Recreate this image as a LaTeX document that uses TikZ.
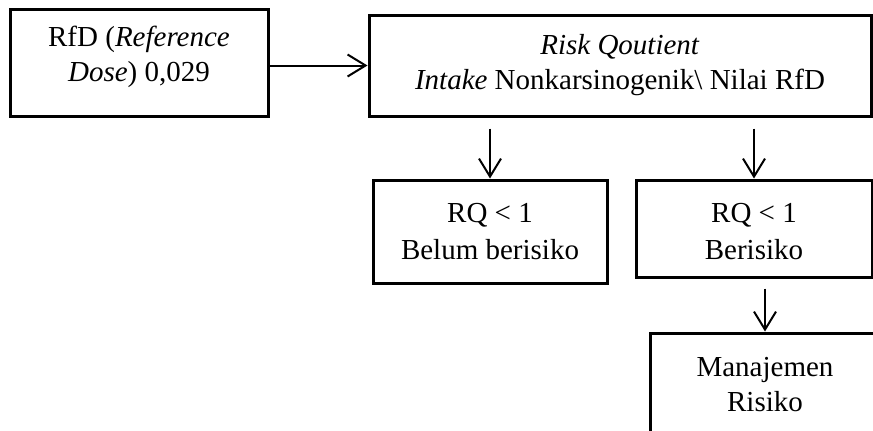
\documentclass[tikz,border=0pt]{standalone}
\usepackage{fontspec}
\setmainfont{Liberation Serif}
\usetikzlibrary{arrows.meta}
\tikzset{
  kotak/.style={draw,line width=1.5pt,align=center,inner sep=0pt,
    font=\fontsize{14.5}{17.5}\selectfont},
  panah/.style={line width=1pt,-{Straight Barb[length=9pt,width=11pt]}}
}
\begin{document}
\begin{tikzpicture}[x=0.5pt,y=-0.5pt]
   \clip (0,0) rectangle (873,430);
   \node[kotak,minimum width=129pt,minimum height=53.5pt] (rfd) at (139,62.5)
     {RfD (\textit{Reference}\\\textit{Dose}) 0,029\rule[-9.2pt]{0pt}{1pt}};
   \node[kotak,minimum width=251pt,minimum height=50.5pt] (rq) at (620,65.5)
     {\textit{Risk Qoutient}\\\textit{Intake} Nonkarsinogenik\textbackslash\ Nilai RfD};
   \node[kotak,minimum width=117pt,minimum height=51.5pt] (aman) at (490,231.5)
     {RQ < 1\\[1pt]Belum berisiko};
   \node[kotak,minimum width=118pt,minimum height=48.5pt] (bahaya) at (754,228.5)
     {\rule{0pt}{13pt}RQ < 1\\[1pt]Berisiko};
   \node[kotak,minimum width=115pt,minimum height=52pt] (manaj) at (765,385)
     {Manajemen\\Risiko};
   % panah
   \draw[panah] (rq.west -| rfd.east) -- (rq.west);
   \draw[panah] ([yshift=-5.5pt]rq.south -| aman.north) -- (aman.north);
   \draw[panah] ([yshift=-5.5pt]rq.south -| bahaya.north) -- (bahaya.north);
   \draw[panah] ([yshift=-5pt]bahaya.south -| manaj.north) -- (manaj.north);
\end{tikzpicture}
\end{document}
